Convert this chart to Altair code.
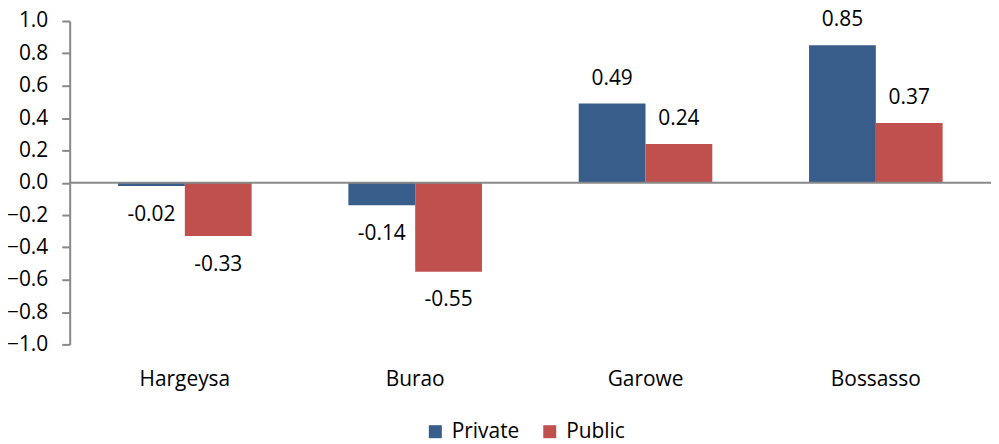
import altair as alt
import pandas as pd

cities = ["Hargeysa", "Burao", "Garowe", "Bossasso"]
private = [-0.02, -0.14, 0.49, 0.85]
public = [-0.33, -0.55, 0.24, 0.37]
series = ["Private", "Public"]
colors = ["#385D8A", "#C0504D"]
yticks = [-1.0, -0.8, -0.6, -0.4, -0.2, 0.0, 0.2, 0.4, 0.6, 0.8, 1.0]

rows = []
for c, a, b in zip(cities, private, public):
    rows.append({"city": c, "sector": "Private", "value": a, "label": f"{a:.2f}"})
    rows.append({"city": c, "sector": "Public", "value": b, "label": f"{b:.2f}"})
df = pd.DataFrame(rows)

FONT = "Open Sans"
FS = 21

yscale = alt.Scale(domain=[-1, 1], nice=False)
yaxis = alt.Axis(values=yticks, format=".1f")
xscale = alt.Scale(paddingInner=0.42, paddingOuter=0.21)

x = alt.X("city:N", sort=cities, title=None, scale=xscale)
xo = alt.XOffset("sector:N", sort=series, scale=alt.Scale(paddingInner=0, paddingOuter=0))
y = alt.Y("value:Q", title=None, scale=yscale, axis=yaxis)

base = alt.Chart(df)

bars = base.mark_bar(stroke=None).encode(
    x=x, xOffset=xo, y=y,
    color=alt.Color("sector:N", sort=series,
                    scale=alt.Scale(domain=series, range=colors),
                    legend=alt.Legend(title=None, orient="none", direction="horizontal",
                                      legendX=357, legendY=402, symbolType="square",
                                      symbolSize=170, symbolStrokeWidth=0,
                                      labelFontSize=FS, labelFont=FONT, labelColor="black",
                                      columnPadding=20, labelOffset=6)),
)

pos = base.transform_filter("datum.value >= 0").mark_text(
    dy=-25, fontSize=FS, font=FONT, color="black").encode(
    x=x, xOffset=xo, y=y, text="label:N")
neg = base.transform_filter("datum.value < 0").mark_text(
    dy=29, fontSize=FS, font=FONT, color="black").encode(
    x=x, xOffset=xo, y=y, text="label:N")

zero = alt.Chart(pd.DataFrame({"value": [0.0]})).mark_rule(
    color="#888888", strokeWidth=2).encode(y=y)

chart = (
    alt.layer(bars, zero, pos, neg)
    .properties(
        width=926, height=325,
        autosize=alt.AutoSizeParams(type="none"),
        padding={"left": 62, "top": 12, "right": 0, "bottom": 94},
        background="white",
    )
    .configure_view(stroke=None)
    .configure_axis(grid=False, labelFont=FONT, labelFontSize=FS, labelColor="black")
    .configure_axisY(domainColor="#888888", domainWidth=2, tickColor="#888888",
                     tickWidth=2, tickSize=8, labelPadding=14, labelOverlap=False)
    .configure_axisX(domain=False, ticks=False, labelAngle=0, labelPadding=24)
)

chart.save("out.html", embed_options={"renderer": "svg", "actions": False})
